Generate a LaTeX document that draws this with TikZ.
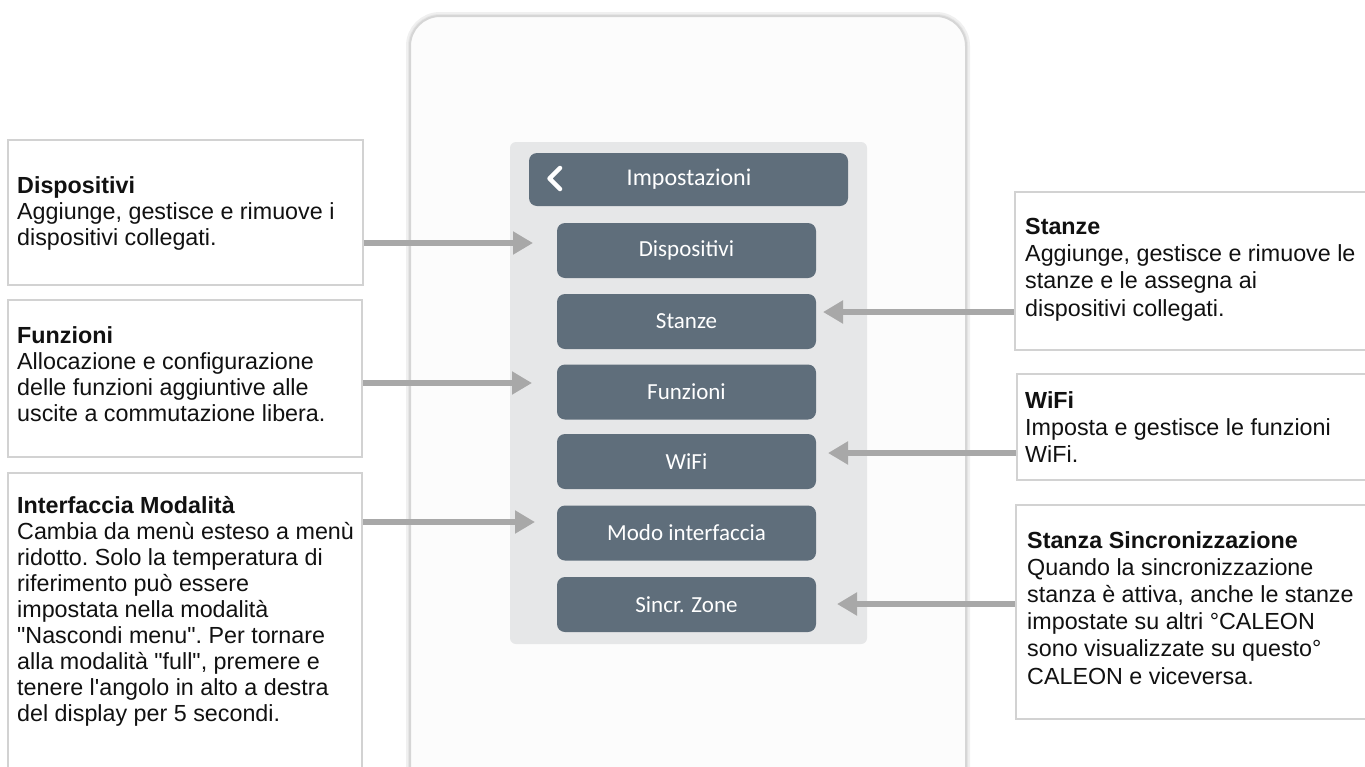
\documentclass[tikz,border=0pt]{standalone}
\usepackage{fontspec}
\setmainfont{Liberation Sans}[Ligatures=TeXOff]
\newfontfamily\btnfont{Carlito}[Ligatures=TeXOff]
\usetikzlibrary{arrows.meta,fit}
\definecolor{btncol}{HTML}{5F6E7B}
\definecolor{panelcol}{HTML}{E6E7E8}
\definecolor{boxline}{HTML}{D2D2D2}
\definecolor{arrcol}{HTML}{A8A8A8}
\definecolor{phoneline}{HTML}{D6D6D6}
\definecolor{txtcol}{HTML}{111111}
\tikzset{
  infobox/.style={draw=boxline, line width=2pt, fill=white, inner sep=0pt},
  infotext/.style={anchor=north west, inner sep=0pt, align=left, text=txtcol,
    font=\frenchspacing\fontsize{23.3}{26}\selectfont},
  infotextr/.style={infotext, font=\frenchspacing\fontsize{23.3}{27.2}\selectfont},
  btn/.style={fill=btncol, rounded corners=8pt, minimum width=259pt, minimum height=55pt,
    text=white, font=\btnfont\fontsize{23}{26}\selectfont, inner sep=0pt},
  arr/.style={draw=arrcol, line width=5.5pt, -{Triangle[length=20pt,width=22pt]}},
}
\begin{document}
\begin{tikzpicture}[x=1pt,y=-1pt]
\useasboundingbox (0,0) rectangle (1365,766);
\clip (0,0) rectangle (1365,766);
\fill[white] (0,0) rectangle (1365,766);
% phone body with soft shadow
\draw[draw=black!6, line width=8pt, rounded corners=30pt] (410,16) rectangle (966,830);
\draw[draw=black!10, line width=4pt, rounded corners=30pt] (410,16) rectangle (966,830);
\node[draw=phoneline, line width=2pt, fill=white!99!black, rounded corners=30pt, inner sep=0pt,
  fit={(410,16) (966,830)}] (phone) {};
% panel
\node[fill=panelcol, rounded corners=6pt, inner sep=0pt, fit={(510,142) (867,644)}] (panel) {};
% header
\node[btn, minimum width=319pt, minimum height=53pt, font=\btnfont\fontsize{24}{26}\selectfont]
  (head) at (688.5,179.5) {\hspace*{1pt}Impostazioni};
\coordinate (chevA) at (560,168);
\coordinate (chevB) at (549.5,178.5);
\coordinate (chevC) at (560,189);
\draw[white, line width=4.5pt, line cap=round, line join=round] (chevA) -- (chevB) -- (chevC);
% buttons
\node[btn] (bdisp) at (686.5,250.5) {Dispositivi};
\node[btn] (bstan) at (686.5,321.5) {Stanze};
\node[btn] (bfunz) at (686.5,392) {Funzioni};
\node[btn] (bwifi) at (686.5,461.5) {WiFi};
\node[btn] (bmodo) at (686.5,533) {Modo interfaccia};
\node[btn] (bsinc) at (686.5,604.5) {Sincr. Zone};
% left info boxes
\node[infobox, fit={(8,140) (363,285)}] (ldisp) {};
\node[infobox, fit={(8,300) (362,457)}] (lfunz) {};
\node[infobox, fit={(8,473) (362,830)}] (lmodo) {};
% right info boxes
\node[infobox, fit={(1015,192) (1400,350)}] (rstan) {};
\node[infobox, fit={(1017,374) (1400,480)}] (rwifi) {};
\node[infobox, fit={(1016,505) (1400,719)}] (rsinc) {};
% texts
\node[infotext] (tdisp) at (17,176) {\textbf{Dispositivi}\\Aggiunge, gestisce e rimuove i\\dispositivi collegati.};
\node[infotext] (tfunz) at (17,326) {\textbf{Funzioni}\\Allocazione e configurazione\\delle funzioni aggiuntive alle\\uscite a commutazione libera.};
\node[infotext] (tmodo) at (17,496) {\textbf{Interfaccia Modalità}\\Cambia da menù esteso a menù\\ridotto. Solo la temperatura di\\riferimento può essere\\impostata nella modalità\\"Nascondi menu". Per tornare\\alla modalità "full", premere e\\tenere l'angolo in alto a destra\\del display per 5 secondi.};
\node[infotextr] (tstan) at (1025,218) {\textbf{Stanze}\\Aggiunge, gestisce e rimuove le\\stanze e le assegna ai\\dispositivi collegati.};
\node[infotextr] (twifi) at (1025,391) {\textbf{WiFi}\\Imposta e gestisce le funzioni\\WiFi.};
\node[infotextr] (tsinc) at (1027,531) {\textbf{Stanza Sincronizzazione}\\Quando la sincronizzazione\\stanza è attiva, anche le stanze\\impostate su altri °CALEON\\sono visualizzate su questo°\\CALEON e viceversa.};
% arrow tips
\coordinate (adisp) at (533,243);
\coordinate (afunz) at (532,383);
\coordinate (amodo) at (535,522);
\coordinate (astan) at (823,312);
\coordinate (awifi) at (828,453);
\coordinate (asinc) at (837,604);
\draw[arr] (ldisp.east |- adisp) -- (adisp);
\draw[arr] (lfunz.east |- afunz) -- (afunz);
\draw[arr] (lmodo.east |- amodo) -- (amodo);
\draw[arr] (rstan.west |- astan) -- (astan);
\draw[arr] (rwifi.west |- awifi) -- (awifi);
\draw[arr] (rsinc.west |- asinc) -- (asinc);
\end{tikzpicture}
\end{document}
